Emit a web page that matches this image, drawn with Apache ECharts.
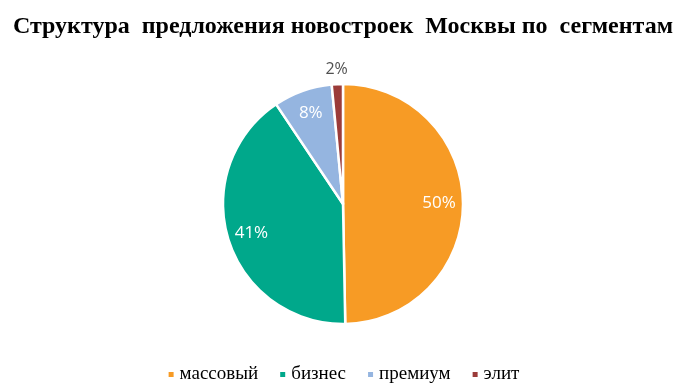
<!DOCTYPE html>
<html><head><meta charset="utf-8">
<script src="https://cdn.jsdelivr.net/npm/echarts@6/dist/echarts.min.js"></script>
<style>html,body{margin:0;padding:0;background:#fff}#c{width:686px;height:392px}</style>
</head><body><div id="c"></div>
<script>
const titleText = 'Структура  предложения новостроек  Москвы по  сегментам';
const categories = ['массовый', 'бизнес', 'премиум', 'элит'];
const values = [49.7, 40.9, 7.9, 1.5];
const colors = ['#F79B25', '#00A88B', '#95B5E0', '#9B3B39'];

const chart = echarts.init(document.getElementById('c'), null, {renderer: 'canvas'});
const mainData = categories.map((n, i) => ({
  name: n, value: values[i], itemStyle: {color: colors[i]}
}));
const innerLabelData = categories.map((n, i) => ({
  name: n, value: values[i], label: {show: i !== 3}
}));
const outerLabelData = categories.map((n, i) => ({
  name: n, value: values[i], label: {show: i === 3}
}));
const fmt = p => Math.round(p.value) + '%';
chart.setOption({
  animation: false,
  title: {
    text: titleText, left: 'center', top: 10,
    textStyle: {fontFamily: 'Liberation Serif', fontWeight: 'bold', fontSize: 24, color: '#000'}
  },
  legend: {
    data: categories, bottom: 3, left: 'center',
    icon: 'rect', itemWidth: 7, itemHeight: 7, itemGap: 20,
    textStyle: {fontFamily: 'Liberation Serif', fontSize: 19, color: '#000'}
  },
  series: [{
    type: 'pie', radius: 120, center: ['50%', 204], startAngle: 90,
    itemStyle: {borderColor: '#fff', borderWidth: 2.5},
    label: {show: false}, labelLine: {show: false},
    emphasis: {disabled: true},
    data: mainData
  }, {
    type: 'pie', radius: [66, 120], center: ['50%', 204], startAngle: 90,
    silent: true, itemStyle: {color: 'rgba(0,0,0,0)'},
    label: {position: 'inside', formatter: fmt,
      fontFamily: 'Open Sans', fontSize: 17, color: '#fff'},
    emphasis: {disabled: true},
    data: innerLabelData
  }, {
    type: 'pie', radius: [124, 140], center: ['50%', 204], startAngle: 90,
    silent: true, itemStyle: {color: 'rgba(0,0,0,0)'},
    label: {position: 'inside', formatter: fmt,
      fontFamily: 'Open Sans', fontSize: 16, color: '#505050'},
    emphasis: {disabled: true},
    data: outerLabelData
  }]
});
</script></body></html>
